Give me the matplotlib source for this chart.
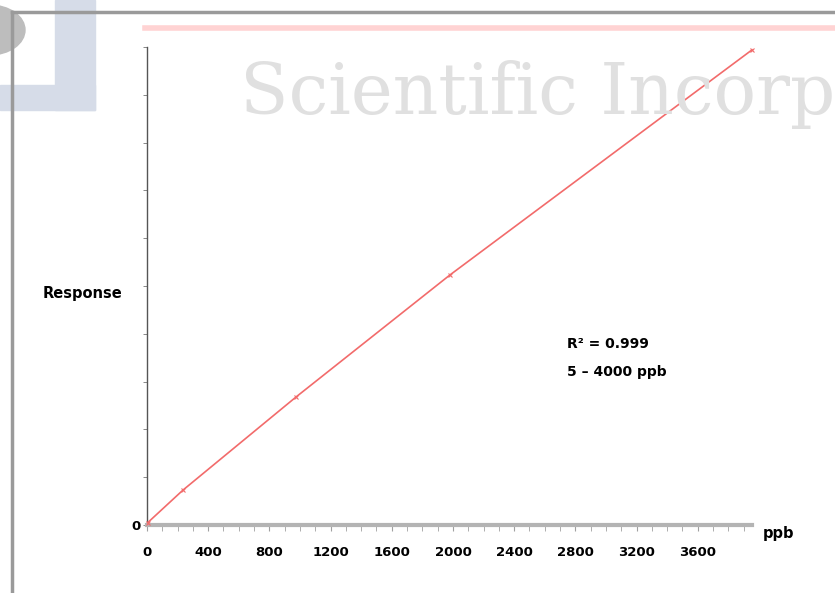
import numpy as np
import matplotlib.pyplot as plt
from matplotlib.patches import Rectangle, Circle
from matplotlib.lines import Line2D

# Calibration points (ppb vs. relative response)
conc = [5, 235, 975, 1980, 3955]
response = [0.05, 0.73, 2.68, 5.23, 9.94]

x_ticks = [0, 400, 800, 1200, 1600, 2000, 2400, 2800, 3200, 3600]
annot_lines = ['R² = 0.999', '5 – 4000 ppb']

plt.rcParams['font.family'] = ['DejaVu Sans']

fig = plt.figure(figsize=(8.35, 5.93), dpi=100)

# page decorations from the scanned document
W, H = 835, 593
def fx(px):
    return px / W
def fy(py):
    return 1 - py / H

fig.patches.append(Rectangle((fx(55), fy(110)), fx(40), 110 / H, transform=fig.transFigure,
                             color='#d6dce8', zorder=0))
fig.patches.append(Rectangle((0, fy(110)), fx(95), 25 / H, transform=fig.transFigure,
                             color='#d6dce8', zorder=0))
fig.patches.append(Circle((fx(-10), fy(30)), 35 / W, transform=fig.transFigure,
                          color='#bdbdbd', zorder=1))
fig.lines.append(Line2D([fx(12), 1], [fy(12), fy(12)], transform=fig.transFigure,
                        color='#9a9a9a', lw=2.5, zorder=2))
fig.lines.append(Line2D([fx(12), fx(12)], [fy(12), 0], transform=fig.transFigure,
                        color='#9a9a9a', lw=2.5, zorder=2))
fig.lines.append(Line2D([fx(145), 1], [fy(28), fy(28)], transform=fig.transFigure,
                        color='#ffd3d3', lw=4, zorder=2))
# watermark (cut at the right edge, as in the scan)
fig.text(fx(240), fy(114), 'Scientific Incorp', family='DejaVu Serif', fontsize=51,
         color='#e0e0e0', zorder=1)

ax = fig.add_axes([fx(147), fy(525), fx(752) - fx(147), (525 - 47) / H])
ax.patch.set_alpha(0)

ax.plot(conc, response, color='#f26b6b', lw=1.2, marker='x', ms=3.5,
        mew=0.8, clip_on=False, zorder=3)

ax.set_xlim(0, 3955)
ax.set_ylim(0, 10)

for s in ['top', 'right']:
    ax.spines[s].set_visible(False)
ax.spines['left'].set_color('#555555')
ax.spines['left'].set_linewidth(1)
ax.spines['bottom'].set_color('#b4b4b4')
ax.spines['bottom'].set_linewidth(3)

ax.set_xticks(x_ticks)
ax.set_xticklabels([str(t) for t in x_ticks], fontweight='bold', fontsize=9.5)
ax.set_xticks(np.arange(0, 3955, 100), minor=True)
ax.tick_params(axis='x', which='both', direction='out', length=4, color='#a0a0a0',
               pad=11)

ax.set_yticks(np.arange(0, 11, 1))
ax.set_yticklabels(['0'] + [''] * 10, fontweight='bold', fontsize=9.5)
ax.tick_params(axis='y', direction='out', length=3, color='#888888', width=0.7, pad=1.5)

ax.set_ylabel('Response', rotation=0, fontweight='bold', fontsize=10.5,
              ha='right', va='center')
ax.yaxis.set_label_coords(-0.04, 0.485)

ax.text(1.017, -0.017, 'ppb', transform=ax.transAxes, fontweight='bold', fontsize=10.5,
        va='center')

ax.text(0.694, 0.379, annot_lines[0], transform=ax.transAxes, fontweight='bold',
        fontsize=10, va='center')
ax.text(0.694, 0.32, annot_lines[1], transform=ax.transAxes, fontweight='bold',
        fontsize=10, va='center')

plt.savefig('out.png', dpi=100)
plt.close()
